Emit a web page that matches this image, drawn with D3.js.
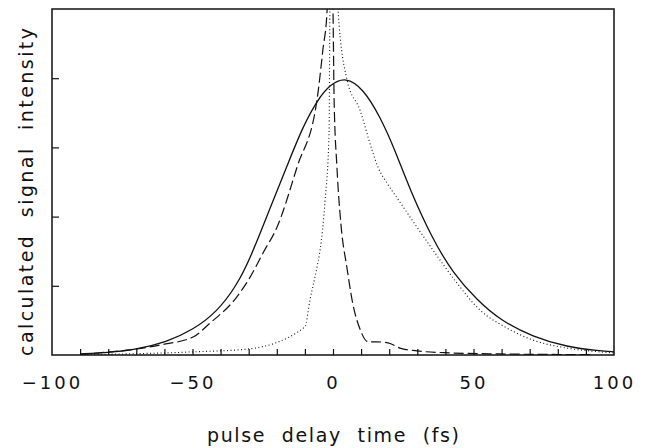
<!DOCTYPE html>
<html>
<head>
<meta charset="utf-8">
<script src="https://cdn.jsdelivr.net/npm/d3@7"></script>
<style>
  body { margin: 0; background: #fff; }
  svg { display: block; }
</style>
</head>
<body>
<div id="chart"></div>
<script>
// delay times (fs) and intensities
var solidT = [-90, -80, -71, -59, -50, -41.3, -34.2, -29.5, -22.4, -15.3, -10.7, -5.7, -1.1, 4.6, 10.7, 16.7, 22.1, 27.4, 35.6, 42.7, 51.2, 59.4, 71.2, 83.3, 95, 100];
var solidV = [0.003, 0.007, 0.014, 0.038, 0.072, 0.124, 0.202, 0.278, 0.425, 0.568, 0.66, 0.735, 0.782, 0.804, 0.77, 0.69, 0.592, 0.477, 0.332, 0.237, 0.159, 0.101, 0.052, 0.023, 0.012, 0.009];

var dashT = [-90, -61.6, -49.8, -43.8, -34.2, -29.5, -24.9, -19.9, -12.8, -5.7, -3.6, -2.1, -1, 0, 0.4, 1.4, 2.8, 5, 7, 9.6, 12.5, 15.7, 19.6, 23.8, 29.9, 41.6, 59.4, 92];
var dashV = [0.002, 0.029, 0.052, 0.092, 0.168, 0.225, 0.295, 0.370, 0.543, 0.737, 0.882, 0.997, 1.25, 0.997, 0.737, 0.543, 0.38, 0.25, 0.15, 0.075, 0.038, 0.038, 0.035, 0.020, 0.012, 0.006, 0.003, 0.001];

var dotT = [-90, -49.8, -30.6, -10, -8.2, -5.7, -4.6, -2.8, -1.4, -1.1, 0.3, 1.8, 5, 9.6, 13.9, 16, 19.2, 22.8, 27.4, 35.6, 44.1, 52.3, 61.9, 71.2, 83.3, 95, 100];
var dotV = [0.001, 0.009, 0.017, 0.081, 0.159, 0.254, 0.303, 0.448, 0.642, 0.997, 1.4, 0.997, 0.795, 0.708, 0.592, 0.543, 0.497, 0.454, 0.399, 0.303, 0.208, 0.130, 0.078, 0.043, 0.020, 0.009, 0.006];

var xLabels = [-100, -50, 0, 50, 100];
var xMinor = d3.range(-90, 100, 10);
var yTicks = [0.2, 0.4, 0.6, 0.8];

var W = 647, H = 448;
var margin = { top: 9, right: 33, bottom: 93, left: 52 };
var w = W - margin.left - margin.right;
var h = H - margin.top - margin.bottom;

var svg = d3.select("#chart").append("svg").attr("width", W).attr("height", H);
var g = svg.append("g").attr("transform", "translate(" + margin.left + "," + margin.top + ")");

var x = d3.scaleLinear().domain([-100, 100]).range([0, w]);
var y = d3.scaleLinear().domain([0, 1]).range([h, 0]);

g.append("clipPath").attr("id", "clip").append("rect").attr("width", w).attr("height", h);

function pairs(t, v) { return t.map(function (d, i) { return [d, v[i]]; }); }

var series = [
  { data: pairs(solidT, solidV), dash: null, width: 1.3, curve: d3.curveBasis },
  { data: pairs(dashT, dashV), dash: "10,4", width: 1.2, curve: d3.curveMonotoneX },
  { data: pairs(dotT, dotV), dash: "1,2.5", width: 1.1, curve: d3.curveMonotoneX }
];

g.append("g").attr("clip-path", "url(#clip)").selectAll("path").data(series).enter().append("path")
  .attr("d", function (d) {
    return d3.line().x(function (p) { return x(p[0]); }).y(function (p) { return y(p[1]); }).curve(d.curve)(d.data);
  })
  .attr("fill", "none")
  .attr("stroke", "#111")
  .attr("stroke-width", function (d) { return d.width; })
  .attr("stroke-dasharray", function (d) { return d.dash; });

// ticks inside the frame
var xAxis = g.append("g").attr("transform", "translate(0," + h + ")")
  .call(d3.axisBottom(x).tickValues(xMinor).tickSize(-6).tickFormat(""));
xAxis.select(".domain").remove();
xAxis.selectAll("line").attr("stroke", "#111").attr("stroke-width", 1.2);

var yAxis = g.append("g").call(d3.axisLeft(y).tickValues(yTicks).tickSize(-7).tickFormat(""));
yAxis.select(".domain").remove();
yAxis.selectAll("line").attr("stroke", "#111").attr("stroke-width", 1.2);

g.append("rect").attr("width", w).attr("height", h)
  .attr("fill", "none").attr("stroke", "#111").attr("stroke-width", 1.5);

var labels = g.append("g").attr("transform", "translate(0," + h + ")")
  .call(d3.axisBottom(x).tickValues(xLabels).tickSize(0).tickPadding(21)
    .tickFormat(function (d) { return d < 0 ? "\u2212" + Math.abs(d) : d; }));
labels.select(".domain").remove();
labels.selectAll("text")
  .attr("font-family", "DejaVu Sans")
  .attr("font-size", 18)
  .attr("letter-spacing", 3)
  .attr("fill", "#111");

svg.append("text")
  .attr("x", margin.left + w / 2).attr("y", 442)
  .attr("text-anchor", "middle")
  .attr("font-family", "DejaVu Sans").attr("font-size", 19)
  .attr("word-spacing", 8)
  .attr("textLength", 252).attr("lengthAdjust", "spacing")
  .attr("fill", "#111")
  .text("pulse delay time (fs)");

svg.append("text")
  .attr("transform", "translate(33," + 192 + ") rotate(-90)")
  .attr("text-anchor", "middle")
  .attr("font-family", "DejaVu Sans").attr("font-size", 19)
  .attr("word-spacing", 8)
  .attr("textLength", 328).attr("lengthAdjust", "spacing")
  .attr("fill", "#111")
  .text("calculated signal intensity");
</script>
</body>
</html>
